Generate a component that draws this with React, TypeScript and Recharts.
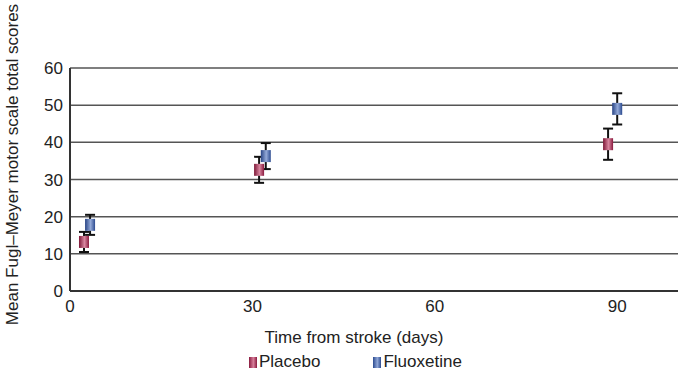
import {
  CartesianGrid,
  ErrorBar,
  Legend,
  Scatter,
  ScatterChart,
  XAxis,
  YAxis,
} from "recharts";

const dayTicks = [0, 30, 60, 90];
const scoreTicks = [0, 10, 20, 30, 40, 50, 60];

const placeboDays = [2.3, 31.1, 88.5];
const placeboScores = [13.2, 32.6, 39.5];
const placeboErr = [2.7, 3.5, 4.2];

const fluoxetineDays = [3.3, 32.2, 90.0];
const fluoxetineScores = [17.8, 36.3, 49.0];
const fluoxetineErr = [2.7, 3.5, 4.2];

const FONT = "'Liberation Sans', Arial, sans-serif";

const placeboData = placeboDays.map((day, i) => ({
  day,
  score: placeboScores[i],
  err: placeboErr[i],
}));
const fluoxetineData = fluoxetineDays.map((day, i) => ({
  day,
  score: fluoxetineScores[i],
  err: fluoxetineErr[i],
}));

const makeBox = (gradId: string) => (props: any) => {
  const { cx, cy } = props;
  if (cx == null || cy == null) return <g />;
  return <rect x={cx - 5} y={cy - 6} width={10} height={12} fill={`url(#${gradId})`} />;
};

function LegendSwatch({ grad }: { grad: [string, string] }) {
  return (
    <span
      style={{
        display: "inline-block",
        width: 8,
        height: 11,
        marginRight: 2,
        background: `linear-gradient(to right, ${grad[0]}, ${grad[1]} 55%, ${grad[0]})`,
        verticalAlign: "-1px",
      }}
    />
  );
}

// legend sits under the axis title, slightly left of centre like the source
function ChartLegend() {
  return (
    <div
      style={{
        fontFamily: FONT,
        fontSize: 17,
        lineHeight: "20px",
        color: "#222",
        height: 28,
        paddingTop: 7,
        paddingLeft: 249,
        boxSizing: "border-box",
        textAlign: "left",
        whiteSpace: "nowrap",
      }}
    >
      <span style={{ marginRight: 53 }}>
        <LegendSwatch grad={["#8a1a3e", "#d67f9a"]} />
        Placebo
      </span>
      <span>
        <LegendSwatch grad={["#2c4b90", "#8fa6d6"]} />
        Fluoxetine
      </span>
    </div>
  );
}

export default function App() {
  return (
    <div style={{ position: "absolute", left: 0, top: 0, width: 684, height: 373, background: "#fff" }}>
      <ScatterChart
        width={684}
        height={373}
        margin={{ top: 68, right: 6, bottom: 0, left: 0 }}
      >
        <defs>
          <linearGradient id="placeboFill" x1="0" y1="0" x2="1" y2="0">
            <stop offset="0%" stopColor="#7d1636" />
            <stop offset="55%" stopColor="#d8869f" />
            <stop offset="100%" stopColor="#8a1a3e" />
          </linearGradient>
          <linearGradient id="fluoxetineFill" x1="0" y1="0" x2="1" y2="0">
            <stop offset="0%" stopColor="#284485" />
            <stop offset="55%" stopColor="#93a9d8" />
            <stop offset="100%" stopColor="#2c4b90" />
          </linearGradient>
        </defs>
        <CartesianGrid vertical={false} stroke="#555" strokeWidth={1.5} />
        <XAxis
          type="number"
          dataKey="day"
          domain={[0, 100]}
          ticks={dayTicks}
          tickLine={false}
          axisLine={{ stroke: "#333", strokeWidth: 2 }}
          tick={{ fill: "#222", fontSize: 17, fontFamily: FONT }}
          tickMargin={3}
          height={54}
          label={{
            value: "Time from stroke (days)",
            position: "insideBottom",
            offset: 2,
            dx: -20,
            fill: "#222",
            fontSize: 17,
            fontFamily: FONT,
          }}
        />
        <YAxis
          type="number"
          dataKey="score"
          domain={[0, 60]}
          ticks={scoreTicks}
          tickLine={false}
          axisLine={{ stroke: "#333", strokeWidth: 2 }}
          tick={{ fill: "#222", fontSize: 17, fontFamily: FONT }}
          tickMargin={1}
          width={70}
          label={{
            value: "Mean Fugl–Meyer motor scale total scores",
            angle: -90,
            position: "insideLeft",
            offset: 12,
            dy: -15,
            style: { textAnchor: "middle" },
            fill: "#222",
            fontSize: 17,
            fontFamily: FONT,
          }}
        />
        <Legend
          verticalAlign="bottom"
          height={28}
          wrapperStyle={{ left: 0, width: 684 }}
          content={() => <ChartLegend />}
        />
        <Scatter
          name="Placebo"
          data={placeboData}
          shape={makeBox("placeboFill")}
          isAnimationActive={false}
        >
          <ErrorBar dataKey="err" direction="y" width={5} stroke="#111" strokeWidth={2} />
        </Scatter>
        <Scatter
          name="Fluoxetine"
          data={fluoxetineData}
          shape={makeBox("fluoxetineFill")}
          isAnimationActive={false}
        >
          <ErrorBar dataKey="err" direction="y" width={5} stroke="#111" strokeWidth={2} />
        </Scatter>
      </ScatterChart>
    </div>
  );
}
